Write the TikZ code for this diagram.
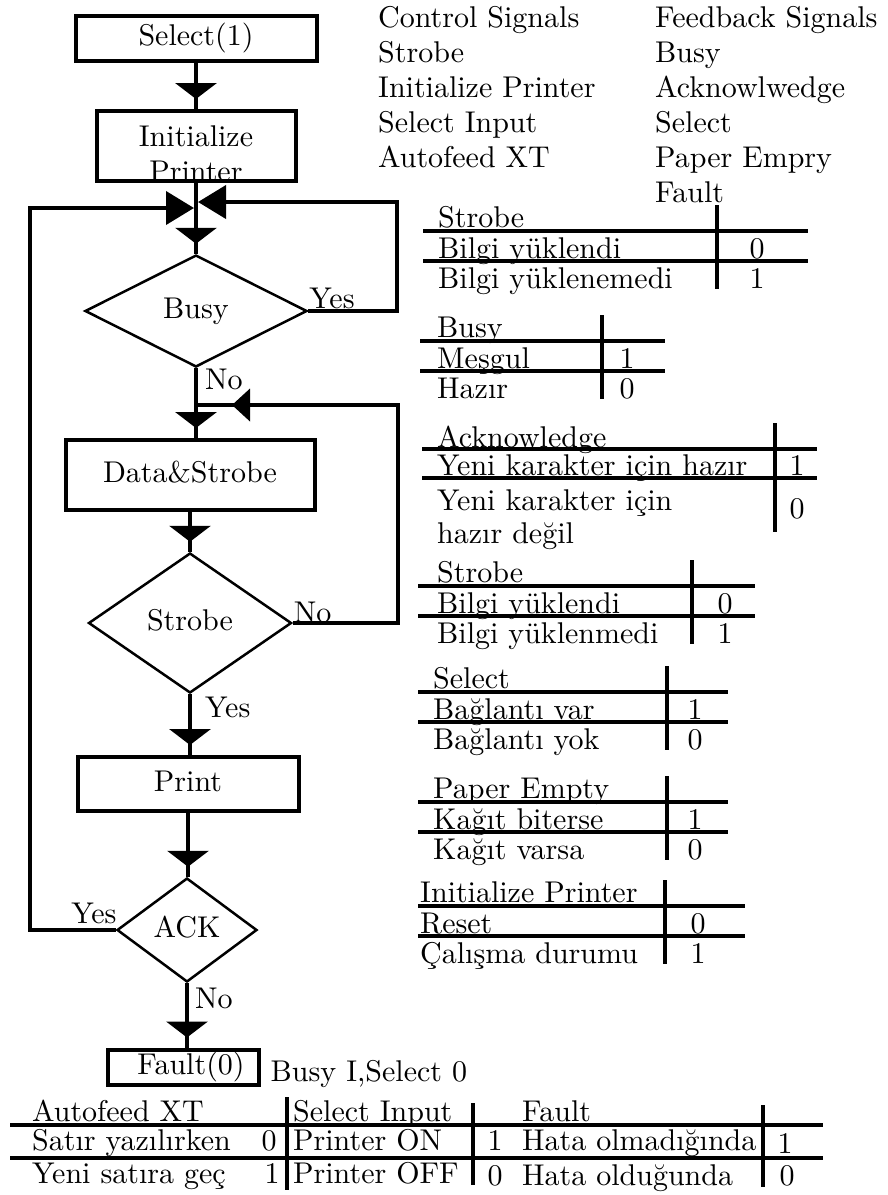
\documentclass[tikz,border=0pt]{standalone}
\usepackage{fontspec}
\setmainfont{lmroman10-regular}[Extension=.otf]
\usetikzlibrary{arrows.meta, positioning, shapes.geometric, decorations.markings}

\begin{document}
\begin{tikzpicture}[
    x=1pt, y=-1pt, % pixel units, y grows downwards
    font=\fontsize{30}{35}\selectfont,
    box/.style={draw, rectangle, line width=4pt, inner sep=0pt, text height=20pt, text depth=5pt},
    decision/.style={draw, diamond, line width=2.5pt, inner sep=0pt, text height=20pt, text depth=5pt},
    lbl/.style={inner sep=0pt, text height=22pt, text depth=2pt},
    flow/.style={line width=4pt, postaction={decorate},
        decoration={markings, mark=at position -10pt with {\arrow{Triangle[width=41pt,length=16pt]}}}},
    backmid/.style={line width=4pt, postaction={decorate},
        decoration={markings, mark=at position -36pt with {\arrow{Triangle[width=32pt,length=18pt]}}}},
    back/.style={line width=4pt, -{Triangle[width=33pt,length=28pt]}},
    tabline/.style={line width=4pt},
    tabbar/.style={line width=4.5pt}
]
    \path[use as bounding box, fill=white] (0,0) rectangle (887,1195);

    % --- Flow chart ---
    \node[box, minimum width=241pt, minimum height=45pt] (sel) at (196,38) {Select(1)};
    \node[box, minimum width=199pt, minimum height=70pt] (init) at (196,146)
        {\raisebox{-9.5pt}[0pt][0pt]{\begin{tabular}{@{}c@{}}Initialize\\Printer\end{tabular}}};
    \node[decision, minimum width=222pt, minimum height=112pt] (busy) at (196,311) {Busy};
    \node[box, minimum width=249pt, minimum height=70pt] (ds) at (190,475) {Data\&Strobe};
    \node[decision, minimum width=203pt, minimum height=140pt] (strobe) at (190,623) {Strobe};
    \node[box, minimum width=221pt, minimum height=54pt] (print) at (188,784) {Print};
    \node[decision, minimum width=140pt, minimum height=104pt] (ack) at (187,930) {ACK};
    \node[box, minimum width=151pt, minimum height=35pt] (fault) at (183,1067) {\hspace*{16pt}Fault(0)};
    \node[lbl, right=10pt of fault, yshift=-4pt] (busysel) {Busy I,Select 0};

    % junctions on the main line
    \coordinate (jl) at (194,208);
    \coordinate (jr) at (198,202);
    \coordinate (dsin) at (196,405);

    % --- Connectors ---
    \draw[flow] (sel) -- (init);
    \draw[flow] (init) -- (busy);
    \draw[flow] (busy.south) -- (busy.south |- ds.north);
    \draw[flow] (ds) -- (strobe);
    \draw[flow] (strobe.south) -- (strobe.south |- print.north);
    \draw[flow] (print.south) -- (print.south |- ack.north);
    \draw[flow] (ack.south) -- (ack.south |- fault.north);
    \draw[back] (busy.east) -- ++(89pt,0) |- (jr);
    \draw[backmid] (strobe.east) -- ++(105pt,0) |- (dsin);
    \draw[back] (ack.west) -- ++(-86pt,0) |- (jl);

    % branch labels
    \node[lbl, anchor=west] (byes) at ([shift={(1pt,13pt)}]busy.east) {Yes};
    \node[lbl, anchor=west] (bno) at ([shift={(9pt,-11pt)}]busy.south) {No};
    \node[lbl, anchor=west] (sno) at ([shift={(1pt,11pt)}]strobe.east) {No};
    \node[lbl, anchor=west] (syes) at ([shift={(15pt,-13pt)}]strobe.south) {Yes};
    \node[lbl, anchor=east] (ayes) at ([shift={(1pt,17pt)}]ack.west) {Yes};
    \node[lbl, anchor=west] (ano) at ([shift={(8pt,-15pt)}]ack.south) {No};

    % --- Signal lists ---
    \foreach \t [count=\i] in {Control Signals, Strobe, Initialize Printer, Select Input, Autofeed XT}
        \node[lbl, anchor=west] (ctl\i) at (378,{17+35*(\i-1)}) {\t};
    \foreach \t [count=\i] in {Feedback Signals, Busy, Acknowlwedge, Select, Paper Empry, Fault}
        \node[lbl, anchor=west] (fbk\i) at (655,{17+35*(\i-1)}) {\t};

    % --- Signal tables ---
    \foreach \nm/\yc/\xt/\xa/\xb/\xbar/\xv/\hd/\ra/\va/\rb/\vb in {
        t1/217/438/423/808/717/757/Strobe/Bilgi yüklendi/0/Bilgi yüklenemedi/1,
        t2/327/437/420/665/602/627/Busy/Meşgul/1/Hazır/0,
        t4/572/437/418/755/692/725/Strobe/Bilgi yüklendi/0/Bilgi yüklenmedi/1,
        t5/678/433/418/728/667/695/Select/Bağlantı var/1/Bağlantı yok/0,
        t6/788/433/418/728/667/695/Paper Empty/Kağıt biterse/1/Kağıt varsa/0,
        t7/892/420/418/745/665/698/Initialize Printer/Reset/0/Çalışma durumu/1}
    {
        \node[lbl, anchor=west] (\nm h) at (\xt,\yc) {\hd};
        \draw[tabline] (\xa,{\yc+14}) -- (\xb,{\yc+14});
        \node[lbl, anchor=west] (\nm a) at (\xt,{\yc+31}) {\ra};
        \draw[tabline] (\xa,{\yc+44}) -- (\xb,{\yc+44});
        \node[lbl, anchor=west] (\nm b) at (\xt,{\yc+61}) {\rb};
        \draw[tabbar] (\xbar,{\yc-12}) -- (\xbar,{\yc+72});
        \node[lbl] (\nm va) at (\xv,{\yc+31}) {\va};
        \node[lbl] (\nm vb) at (\xv,{\yc+61}) {\vb};
    }

    % acknowledge table (two line row)
    \node[lbl, anchor=west] (t3h) at (437,437) {Acknowledge};
    \draw[tabline] (422,449) -- (817,449);
    \node[lbl, anchor=west] (t3a) at (437,465) {Yeni karakter için hazır};
    \draw[tabline] (422,478) -- (817,478);
    \node[lbl, anchor=west] (t3b) at (437,500) {Yeni karakter için};
    \node[lbl, anchor=west] (t3c) at (437,533) {hazır değil};
    \draw[tabbar] (775,423) -- (775,532);
    \node[lbl] (t3va) at (797,465) {1};
    \node[lbl] (t3vb) at (797,508) {0};

    % bottom table
    \draw[tabline] (10,1125) -- (823,1125);
    \draw[tabline] (10,1158) -- (823,1158);
    \draw[tabbar] (287,1097) -- (287,1190);
    \draw[tabbar] (473,1103) -- (473,1185);
    \draw[tabbar] (763,1105) -- (763,1187);
    \node[lbl, anchor=west] (afh) at (32,1111) {Autofeed XT};
    \node[lbl, anchor=west] (afa) at (32,1140) {Satır yazılırken};
    \node[lbl, anchor=west] (afb) at (32,1173) {Yeni satıra geç};
    \node[lbl] (afva) at (269,1140) {0};
    \node[lbl] (afvb) at (272,1173) {1};
    \node[lbl, anchor=west] (sih) at (293,1111) {Select Input};
    \node[lbl, anchor=west] (sia) at (293,1140) {Printer ON};
    \node[lbl, anchor=west] (sib) at (293,1173) {Printer OFF};
    \node[lbl] (siva) at (495,1140) {1};
    \node[lbl] (sivb) at (495,1175) {0};
    \node[lbl, anchor=west] (flh) at (522,1111) {Fault};
    \node[lbl, anchor=west] (fla) at (522,1140) {Hata olmadığında};
    \node[lbl, anchor=west] (flb) at (522,1175) {Hata olduğunda};
    \node[lbl] (flva) at (785,1143) {1};
    \node[lbl] (flvb) at (787,1175) {0};

\end{tikzpicture}
\end{document}
